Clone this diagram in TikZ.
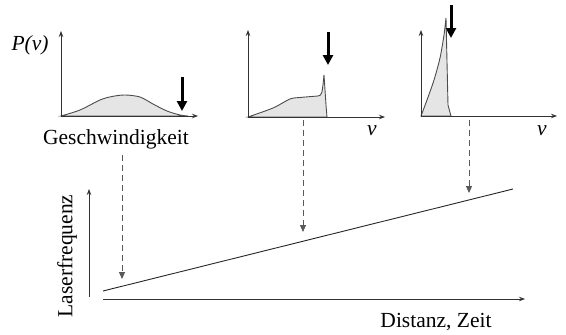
\documentclass[tikz,border=0pt]{standalone}
\usepackage{fontspec}
\setmainfont{Liberation Serif}
\usetikzlibrary{arrows.meta}
\begin{document}
\begin{tikzpicture}[x=1pt,y=-1pt,font=\fontsize{21.5}{24}\selectfont,
  axis/.style={draw=black!80,line width=0.9pt,-{Stealth[length=6pt,width=4.5pt]}},
  curve/.style={draw=black!70,line width=0.9pt,fill=black!10},
  probe/.style={line width=3pt,-{Triangle[length=10pt,width=10pt]}},
  guide/.style={draw=black!65,line width=0.9pt,dash pattern=on 6pt off 4pt,-{Triangle[length=7pt,width=6pt]}}]
\useasboundingbox (0,0) rectangle (566,335);
% upper row: velocity distributions
\coordinate (o1) at (61,116);
\coordinate (o2) at (248,117);
\coordinate (o3) at (421,116);
\draw[curve] plot[smooth] coordinates {(61,116) (80,110) (100,100) (112,96.5) (125,95) (140,97) (153,104) (167,111) (180,115) (188,116)} -- cycle;
\draw[curve] plot[smooth] coordinates {(248,117) (273,108) (290,99) (300,97.5) (318,96)} .. controls (322,95) .. (324,75) -- (326,105) -- (327,117) -- cycle;
\draw[curve] plot[smooth] coordinates {(421,116) (427,100) (434,80) (440,58) (444,35) (446,18)} -- (448,105) -- (451,116) -- cycle;
\draw[axis] (o1) -- ++(0,-85);
\draw[axis] (o1) -- ++(137,0);
\draw[axis] (o2) -- ++(0,-87);
\draw[axis] (o2) -- ++(137,0);
\draw[axis] (o3) -- ++(0,-86);
\draw[axis] (o3) -- ++(136,0);
\node (pv) at (30,45) {\textit{P(v)}};
\node (speed) at (116,139) {Geschwindigkeit};
\node (v2) at (372,131) {\textit{v}};
\node (v3) at (542,131) {\textit{v}};
% laser frequency marks
\draw[probe] (182,77) -- (182,111);
\draw[probe] (328,32) -- (328,65);
\draw[probe] (451,5) -- (451,38);
% lower part: frequency sweep
\coordinate (o4) at (89,297);
\coordinate (o5) at (103,299);
\coordinate (lo) at (103,291);
\coordinate (hi) at (513,189);
\draw[axis] (o4) -- ++(0,-108);
\draw[axis] (o5) -- ++(422,0);
\draw[line width=0.9pt,draw=black!85] (lo) -- (hi);
\node[rotate=90] (freq) at (67,256) {Laserfrequenz};
\node (dist) at (436,322) {Distanz, Zeit};
\coordinate (t1) at (122,279);
\coordinate (t2) at (303,232);
\coordinate (t3) at (469,193);
\draw[guide] (speed.south -| t1) ++(0,3) -- (t1);
\draw[guide] (t2 |- o2) ++(0,3) -- (t2);
\draw[guide] (t3 |- o3) ++(0,4) -- (t3);
\end{tikzpicture}
\end{document}
